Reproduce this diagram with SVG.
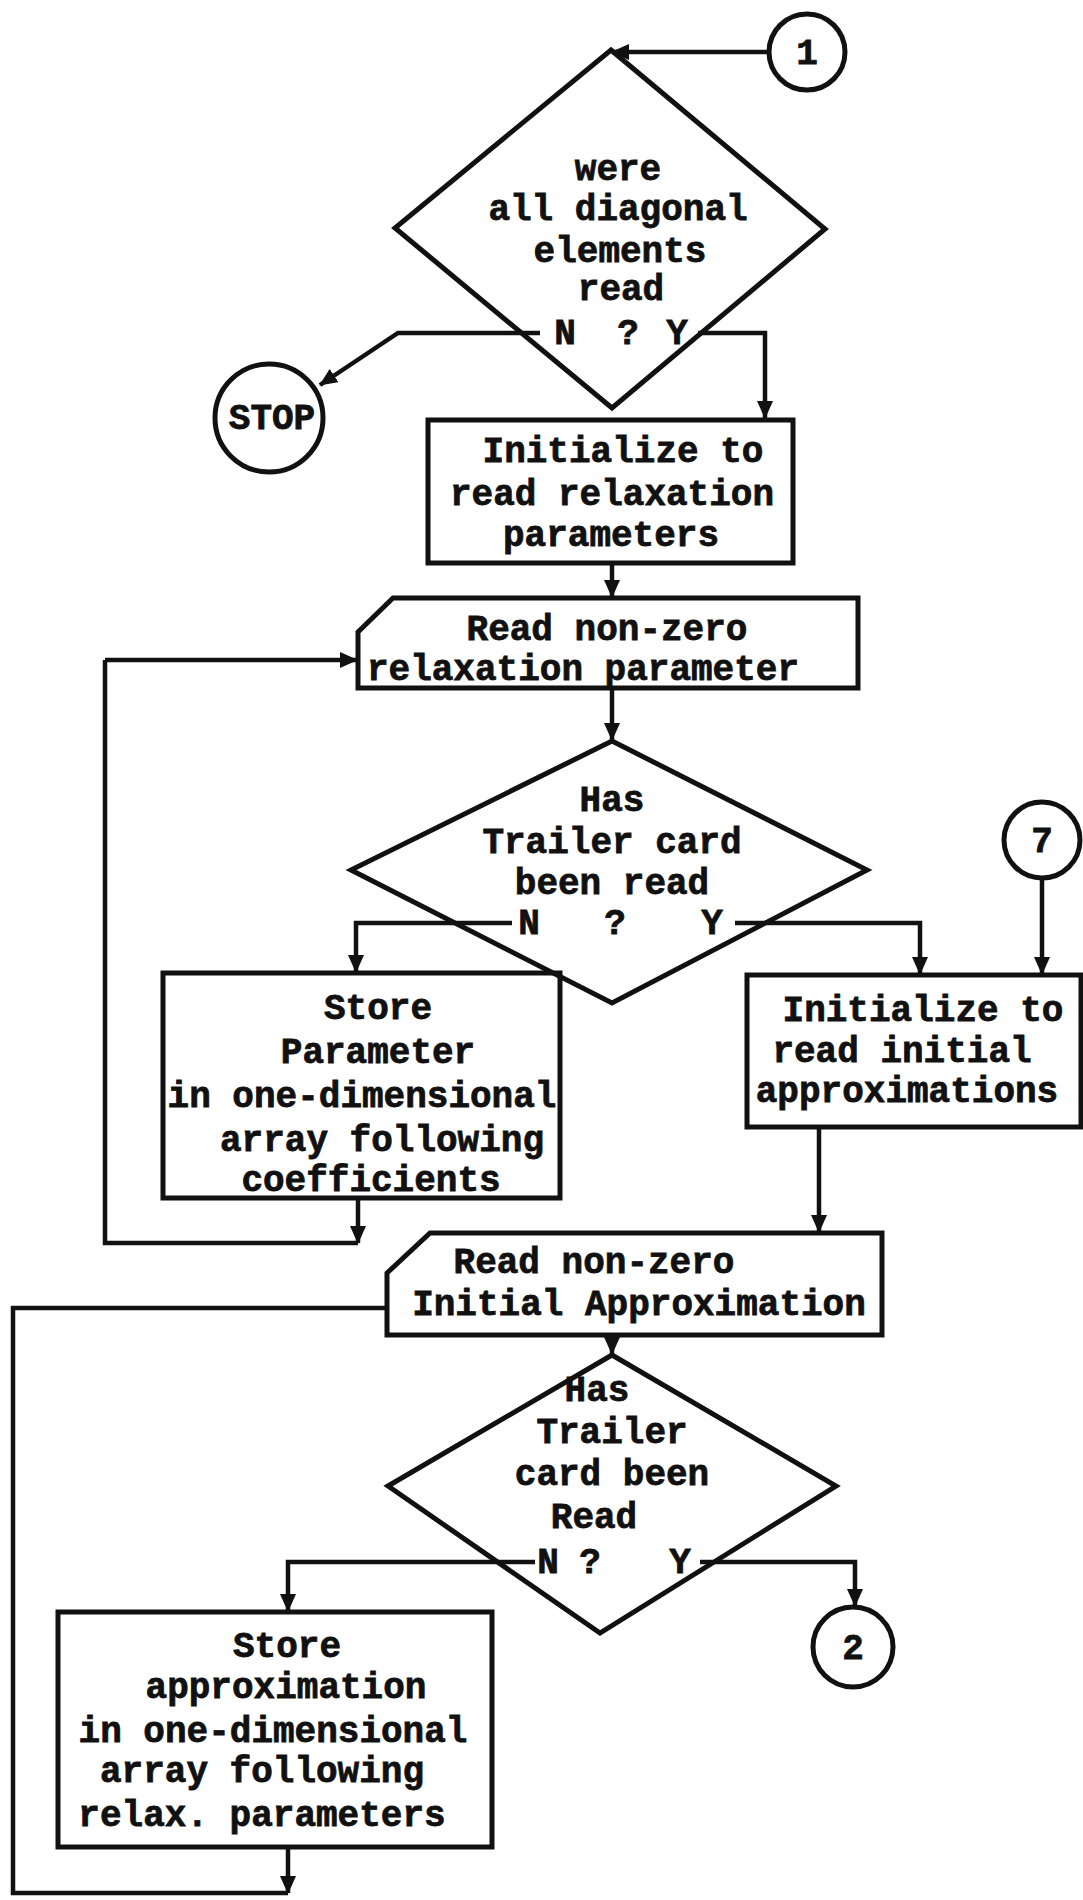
<svg xmlns="http://www.w3.org/2000/svg" width="1083" height="1900" viewBox="0 0 1083 1900">
  <defs>
    <marker id="arrow" markerUnits="userSpaceOnUse" markerWidth="18" markerHeight="16" refX="17" refY="8" orient="auto">
      <path d="M0,0 L18,8 L0,16 Z" fill="#111"/>
    </marker>
    <style>
      .shape { fill: none; stroke: #111; stroke-width: 5; stroke-linejoin: miter; }
      .line { fill: none; stroke: #111; stroke-width: 4.5; }
      .arr { marker-end: url(#arrow); }
      text { font-family: "Liberation Mono", "DejaVu Sans Mono", monospace; font-weight: bold; font-size: 36px; fill: #111; stroke: #111; stroke-width: 0.8; text-anchor: middle; }
    </style>
  </defs>
  <rect width="1083" height="1900" fill="#fff"/>

  <!-- connector 1 -->
  <g id="conn1">
    <circle class="shape" cx="807" cy="52" r="38"/>
    <text x="807" y="64">1</text>
  </g>

  <!-- decision: diagonal elements read -->
  <g id="dec1">
    <polygon class="shape" points="611,50 825,229 612,408 395,228"/>
    <text x="618" y="180">were</text>
    <text x="618" y="220">all diagonal</text>
    <text x="620" y="262">elements</text>
    <text x="621" y="300">read</text>
    <text x="565" y="344">N</text>
    <text x="628" y="344">?</text>
    <text x="677" y="344">Y</text>
  </g>

  <!-- terminal STOP -->
  <g id="stop">
    <circle class="shape" cx="269" cy="418" r="54"/>
    <text x="272" y="429">STOP</text>
  </g>

  <!-- initialize relaxation parameters -->
  <g id="init1">
    <rect class="shape" x="428" y="420" width="365" height="143"/>
    <text x="623" y="462">Initialize to</text>
    <text x="612" y="505">read relaxation</text>
    <text x="611" y="546">parameters</text>
  </g>

  <!-- card read: relaxation parameter -->
  <g id="read1">
    <path class="shape" d="M393,598 L858,598 L858,688 L358,688 L358,632 Z"/>
    <text x="607" y="640">Read non-zero</text>
    <text x="583" y="680">relaxation parameter</text>
  </g>

  <!-- decision: trailer card (parameters) -->
  <g id="dec2">
    <polygon class="shape" points="612,741 867,870 612,1003 351,870"/>
    <text x="612" y="811">Has</text>
    <text x="612" y="853">Trailer card</text>
    <text x="612" y="894">been read</text>
    <text x="529" y="934">N</text>
    <text x="615" y="934">?</text>
    <text x="712" y="934">Y</text>
  </g>

  <!-- store parameter -->
  <g id="store1">
    <rect class="shape" x="163" y="973" width="397" height="225"/>
    <text x="378" y="1019">Store</text>
    <text x="378" y="1063">Parameter</text>
    <text x="362" y="1107">in one-dimensional</text>
    <text x="382" y="1151">array following</text>
    <text x="371" y="1191">coefficients</text>
  </g>

  <!-- connector 7 -->
  <g id="conn7">
    <circle class="shape" cx="1042" cy="840" r="38"/>
    <text x="1042" y="852">7</text>
  </g>

  <!-- initialize initial approximations -->
  <g id="init2">
    <rect class="shape" x="747" y="975" width="334" height="152"/>
    <text x="923" y="1021">Initialize to</text>
    <text x="902" y="1062">read initial</text>
    <text x="907" y="1102">approximations</text>
  </g>

  <!-- card read: initial approximation -->
  <g id="read2">
    <path class="shape" d="M430,1233 L882,1233 L882,1335 L387,1335 L387,1273 Z"/>
    <text x="594" y="1273">Read non-zero</text>
    <text x="639" y="1315">Initial Approximation</text>
  </g>

  <!-- decision: trailer card (approximations) -->
  <g id="dec3">
    <polygon class="shape" points="612,1355 836,1486 600,1633 388,1486"/>
    <text x="597" y="1401">Has</text>
    <text x="612" y="1443">Trailer</text>
    <text x="612" y="1485">card been</text>
    <text x="594" y="1528">Read</text>
    <text x="548" y="1573">N</text>
    <text x="590" y="1573">?</text>
    <text x="680" y="1573">Y</text>
  </g>

  <!-- connector 2 -->
  <g id="conn2">
    <circle class="shape" cx="853" cy="1647" r="40"/>
    <text x="853" y="1659">2</text>
  </g>

  <!-- store approximation -->
  <g id="store2">
    <rect class="shape" x="58" y="1612" width="434" height="235"/>
    <text x="287" y="1657">Store</text>
    <text x="286" y="1698">approximation</text>
    <text x="273" y="1742">in one-dimensional</text>
    <text x="262" y="1782">array following</text>
    <text x="262" y="1826">relax. parameters</text>
  </g>

  <!-- flow lines -->
  <g id="connectors">
    <path class="line arr" d="M769,52 L612,52"/>
    <path class="line arr" d="M540,333 L398,333 L320,385"/>
    <path class="line arr" d="M698,333 L765,333 L765,418"/>
    <path class="line arr" d="M612,563 L612,597"/>
    <path class="line arr" d="M612,688 L612,740"/>
    <path class="line arr" d="M512,923 L356,923 L356,972"/>
    <path class="line arr" d="M735,923 L920,923 L920,974"/>
    <path class="line arr" d="M1042,878 L1042,974"/>
    <path class="line" d="M358,1243 L105,1243 L105,660"/>
    <path class="line arr" d="M105,660 L357,660"/>
    <path class="line arr" d="M358,1198 L358,1243"/>
    <path class="line arr" d="M819,1127 L819,1232"/>
    <path class="line arr" d="M612,1335 L612,1354"/>
    <path class="line" d="M387,1308 L13,1308 L13,1893 L288,1893"/>
    <path class="line arr" d="M535,1562 L288,1562 L288,1611"/>
    <path class="line arr" d="M700,1562 L855,1562 L855,1606"/>
    <path class="line arr" d="M288,1847 L288,1893"/>
  </g>
</svg>
